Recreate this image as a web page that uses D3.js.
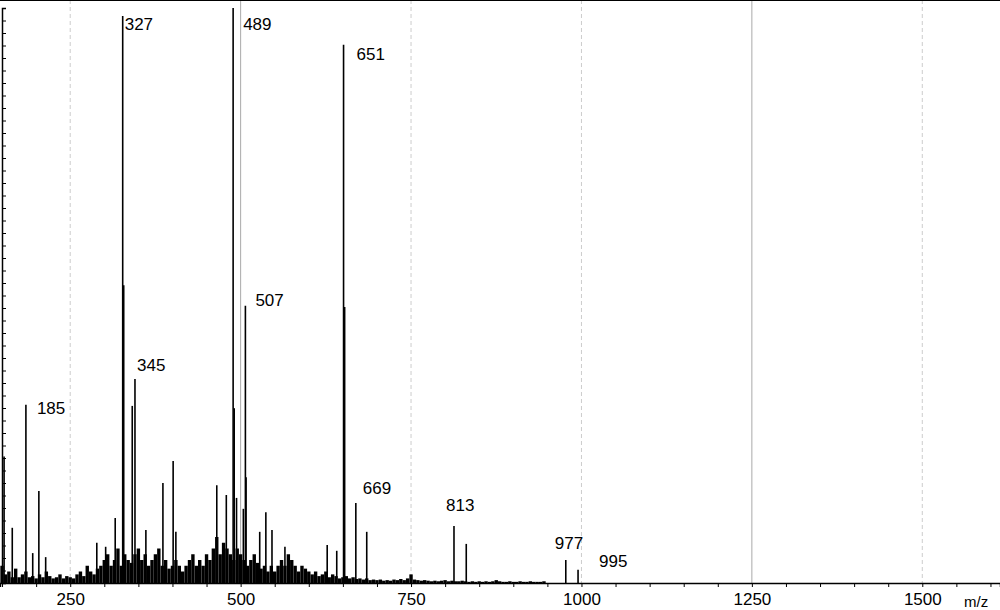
<!DOCTYPE html>
<html><head><meta charset="utf-8">
<script src="https://cdn.jsdelivr.net/npm/d3@7"></script>
<style>body{margin:0;background:#fff}text{font-family:"Liberation Sans",Arial,sans-serif}</style>
</head><body><svg id="c" width="1000" height="610"></svg>
<script>
// main peaks: m/z and relative intensity (%)
const peakMz  = [153,165,185,195,204,214,289,302,316,327,328.5,341,345,361,386,401,405,465,479,489,490.6,494,504,507,508,528,537,546,565,627,641,651,652.6,669,685,813,831,977,995];
const peakInt = [22,9.6,31,5.2,16,4.5,7,6.3,11.3,98.6,51.8,30.8,35.5,9.2,17.4,21.2,8.9,17,15.3,100,30.4,14.8,12.9,48.2,18.4,8.9,12.3,9.2,6.3,6.6,5.6,93.6,48,13.9,8.9,9.9,6.8,4,2.3];
const labels  = [185,327,345,489,507,651,669,813,977,995];
const labelDx = [11,2,2,10,10,13,7,-8,-11,21];
const labelDy = [9,14,-8,22,0,15,-9,-15,-11,-3];

// baseline noise, one value every 5 m/z from 150
const noiseStart = 150, noiseStep = 5;
const noiseInt = [3,1.5,2,1,2.5,1,1.5,2,1,1.2,0.8,1.5,1,2,1.2,0.8,1,1.5,0.8,1.2,
  1,0.8,1.5,2,1.2,3,2,1.5,2.5,3,4,5,3,4,6,3,5,4,3.5,5,
  6,4,5,3,4,5,6,3,4,2.5,3,4,3,2,3,4,5,3,4,3,
  5,4,6,8,5,7,6,5,4,6,5,4,3,4,5,3.5,2.5,3,2,3,
  2,3,4,3,5,4,3,2,3,2.5,2,1.5,2,1.2,1.5,2,1,1.5,1.2,0.8,
  1,1.2,0.8,1,0.7,0.8,0.6,0.8,0.5,0.6,0.5,0.6,0.4,0.5,0.4,0.6,0.5,0.7,0.5,0.8,
  1.5,0.6,0.5,0.4,0.5,0.4,0.3,0.4,0.3,0.4,0.5,0.3,0.4,0.3,0.3,0.4,0.3,0.2,0.3,0.2,
  0.3,0.2,0.3,0.2,0.3,0.5,0.3,0.2,0.2,0.3,0.2,0.2,0.3,0.2,0.2,0.3,0.2,0.2,0.2,0.3];
const tickVals = [250,500,750,1000,1250,1500];
const solidGrid = [500,1250];

const svg = d3.select("#c");
const x = d3.scaleLinear().domain([147,1614]).range([0,1000]);
const y = d3.scaleLinear().domain([0,100]).range([583,8]);

// grid
svg.selectAll(".g").data(tickVals).join("line")
  .attr("x1",d=>x(d)).attr("x2",d=>x(d)).attr("y1",0).attr("y2",583)
  .attr("stroke",d=>solidGrid.includes(d)?"#aaa":"#ccc")
  .attr("stroke-dasharray",d=>solidGrid.includes(d)?null:"4,3");

// noise
const noise = noiseInt.map((v,i)=>({mz:noiseStart+i*noiseStep,v}));
svg.append("g").selectAll("line").data(noise).join("line")
  .attr("x1",d=>x(d.mz)).attr("x2",d=>x(d.mz)).attr("y1",583).attr("y2",d=>y(d.v))
  .attr("stroke","#000").attr("stroke-width",3.4);

// peaks
const peaks = peakMz.map((m,i)=>({mz:m,v:peakInt[i]}));
svg.append("g").selectAll("line").data(peaks).join("line")
  .attr("x1",d=>x(d.mz)).attr("x2",d=>x(d.mz)).attr("y1",583).attr("y2",d=>y(d.v))
  .attr("stroke","#000").attr("stroke-width",1.6);

// labels
svg.append("g").selectAll("text").data(labels).join("text")
  .attr("x",(d,i)=>x(d)+labelDx[i])
  .attr("y",(d,i)=>y(peakInt[peakMz.indexOf(d)])+labelDy[i])
  .attr("font-size",17).text(d=>d);

// axes
const xa = svg.append("g").attr("transform","translate(0,583)")
  .call(d3.axisBottom(x).tickValues(d3.range(150,1601,50)).tickSize(4).tickFormat(d=>tickVals.includes(d)?d:""));
xa.select(".domain").attr("stroke","#000").attr("stroke-width",1.5);
xa.selectAll("text").attr("font-size",17).attr("dy","0.9em").attr("fill","#000");
svg.append("text").attr("x",964).attr("y",607).attr("font-size",15).text("m/z");

const ya = svg.append("g").attr("transform","translate(2,0)")
  .call(d3.axisRight(d3.scaleLinear().domain([0,46]).range([583,8])).ticks(46).tickSize(4).tickFormat(""));
ya.select(".domain").attr("stroke","#000").attr("stroke-width",1.5);
svg.append("line").attr("x1",0).attr("x2",1000).attr("y1",0.5).attr("y2",0.5).attr("stroke","#000");
</script></body></html>
